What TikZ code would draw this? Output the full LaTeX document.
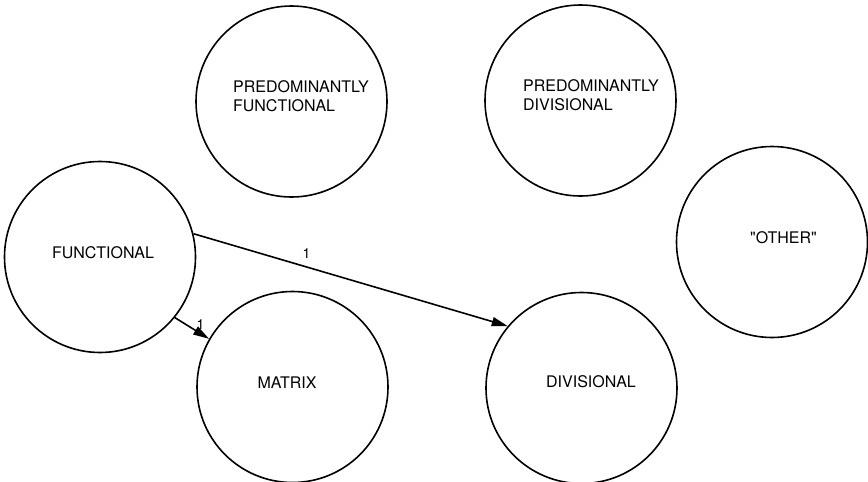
\documentclass[tikz,border=0pt]{standalone}
\usepackage{fontspec}
\setmainfont{TeX Gyre Heros}
\usetikzlibrary{arrows.meta}

\begin{document}
\begin{tikzpicture}[x=1pt,y=-1pt,
			org/.style={circle,draw,line width=1.6pt,minimum size=191pt,inner sep=0pt},
			orgtext/.style={align=left,inner sep=0pt,font=\fontsize{16}{19}\selectfont},
			num/.style={inner sep=1pt,font=\fontsize{14}{16}\selectfont},
			>={Triangle[length=16pt,width=9pt]}]
			
			\useasboundingbox (0,0) rectangle (868,482);
			
			% Structure circles: name / centre / text offset / text
			\foreach \n/\c/\o/\txt in {
				pf/{(291.5,101.5)}/{(9.5,-5)}/{PREDOMINANTLY\\FUNCTIONAL},
				pd/{(580.5,100.5)}/{(10.5,-5.5)}/{PREDOMINANTLY\\DIVISIONAL},
				fn/{(100,257)}/{(3,-4)}/{FUNCTIONAL},
				ot/{(772,242)}/{(11.5,-4)}/{\textquotedbl OTHER\textquotedbl},
				mx/{(292.5,387)}/{(-5.5,-4)}/{MATRIX},
				dv/{(581.5,388)}/{(9.5,-6)}/{DIVISIONAL}}{
				\node[org] (\n) at \c {};
				\node[orgtext] (\n-t) at ([shift=\o]\n.center) {\txt};
			}
			
			% Transitions out of the functional form
			\draw[->,line width=1.6pt] (fn.14) -- node[num,pos=.36,above=6.5pt] {1} (dv.140);
			\draw[->,line width=1.6pt] (fn.-39) -- node[num,pos=.75,above=2.5pt] {1} (mx.150);
			
		\end{tikzpicture}
\end{document}
